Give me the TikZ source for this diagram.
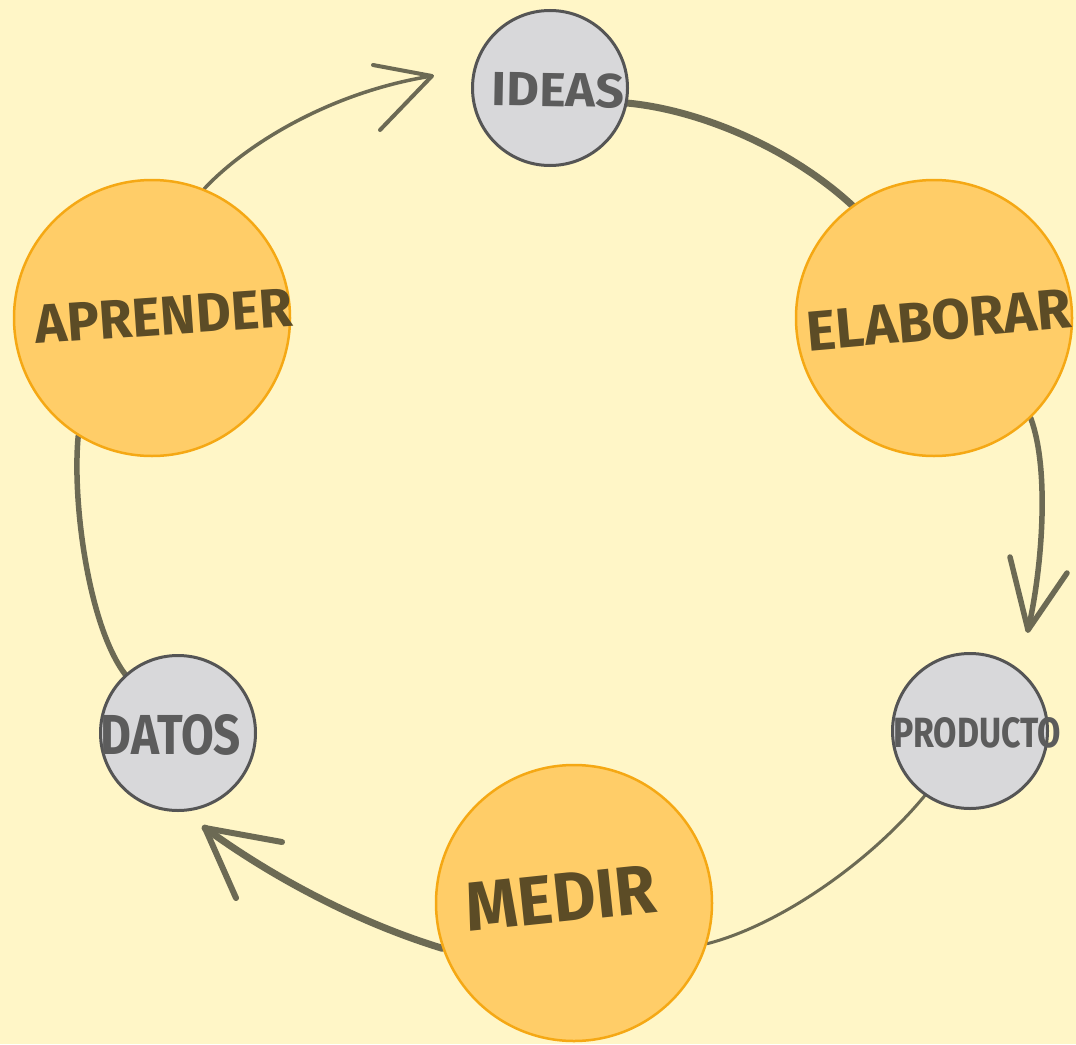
\documentclass[tikz,border=0pt]{standalone}
\usepackage{fontspec}
\setmainfont{Fira Sans}
\usepackage{graphicx}
\pgfdeclarelayer{back}
\pgfdeclarelayer{bg}
\pgfsetlayers{back,bg,main}
\definecolor{bgc}{RGB}{255,246,199}
\definecolor{orangefill}{RGB}{255,205,104}
\definecolor{orangeedge}{RGB}{245,168,20}
\definecolor{grayfill}{RGB}{216,216,218}
\definecolor{grayedge}{RGB}{85,85,85}
\definecolor{conncol}{RGB}{108,106,84}
\definecolor{otext}{RGB}{92,76,38}
\definecolor{gtext}{RGB}{92,92,92}
\begin{document}
\begin{tikzpicture}[x=1pt,y=-1pt,
  onode/.style={circle, draw=orangeedge, fill=orangefill, line width=2.5pt, minimum size=276pt, inner sep=0pt},
  gnode/.style={circle, draw=grayedge, fill=grayfill, line width=3pt, minimum size=155pt, inner sep=0pt},
  olbl/.style={inner sep=0pt, text=otext, font=\bfseries},
  glbl/.style={inner sep=0pt, text=gtext, font=\bfseries},
  conn/.style={draw=conncol, line cap=round, line join=round},
  thinconn/.style={conn, line width=3.5pt},
  thickconn/.style={conn, line width=7pt},
  midconn/.style={conn, line width=5.5pt}]
\useasboundingbox (0,0) rectangle (1076,1044);
\begin{pgfonlayer}{back}
\fill[bgc] (0,0) rectangle (1076,1044);
\end{pgfonlayer}

\node[gnode, label={[glbl, xshift=8pt, yshift=-2pt, rotate=-1]center:\resizebox{132pt}{34pt}{IDEAS}}] (ideas) at (550,88) {};
\node[onode, label={[olbl, xshift=5pt, yshift=-2pt, rotate=5]center:\resizebox{265pt}{40pt}{ELABORAR}}] (ela) at (934,318) {};
\node[gnode, label={[glbl, xshift=7pt, yshift=-2pt]center:\resizebox{168pt}{30pt}{PRODUCTO}}] (prod) at (970,731) {};
\node[onode, label={[olbl, xshift=-13pt, yshift=5pt, rotate=6]center:\resizebox{190pt}{48pt}{MEDIR}}] (medir) at (574,903) {};
\node[gnode, label={[glbl, xshift=-7pt, yshift=-2pt]center:\resizebox{140pt}{40pt}{DATOS}}] (datos) at (178,733) {};
\node[onode, label={[olbl, xshift=12pt, yshift=2pt, rotate=4]center:\resizebox{258pt}{38pt}{APRENDER}}] (apr) at (152,318) {};

\coordinate (tipA) at (432,76);
\coordinate (tipB) at (1028,630);
\coordinate (tipC) at (205,828);

\begin{pgfonlayer}{bg}
% APRENDER -> IDEAS
\draw[thinconn] (apr.68) .. controls (245,145) and (330,92) .. (tipA);
\draw[conn, line width=4pt] (373,65) -- (tipA) -- (380,130);
% IDEAS -> ELABORAR
\draw[thickconn] (ideas.-11) .. controls (700,110) and (790,148) .. (ela.126);
% ELABORAR -> PRODUCTO
\draw[midconn] (ela.-46) .. controls (1050,470) and (1042,570) .. (tipB);
\draw[midconn] (1010,557) -- (tipB) -- (1067,573);
% PRODUCTO -> MEDIR
\draw[thinconn, line width=3pt] (prod.235) .. controls (870,862) and (780,925) .. (medir.-17);
% MEDIR -> DATOS
\draw[thickconn] (medir.199) .. controls (350,920) and (265,872) .. (tipC);
\draw[conn, line width=6pt] (282,842) -- (tipC) -- (236,898);
% DATOS -> APRENDER
\draw[midconn] (datos.132) .. controls (88,625) and (72,500) .. (apr.238);
\end{pgfonlayer}
\end{tikzpicture}
\end{document}
